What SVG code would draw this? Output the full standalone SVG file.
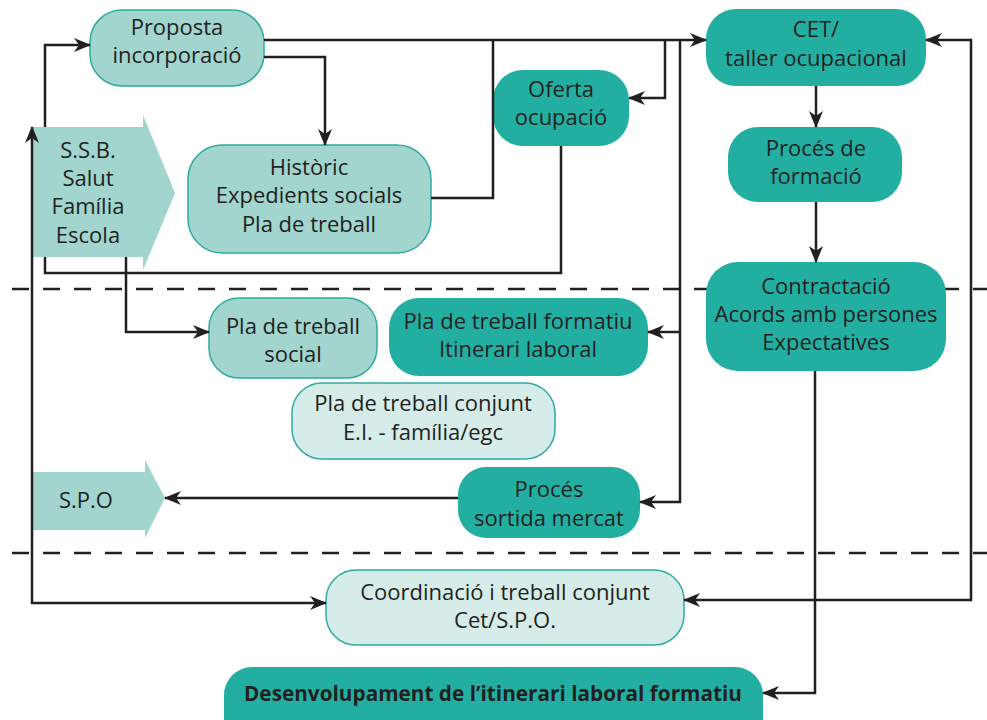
<svg xmlns="http://www.w3.org/2000/svg" width="987" height="720" viewBox="0 0 987 720">
  <style>
    .dark { fill: #22afa2; }
    .light { fill: #a1d5ce; stroke: #2eaa9e; stroke-width: 1.5; }
    .pale { fill: #d5ece9; stroke: #2eaa9e; stroke-width: 1.5; }
    .flag { fill: #a1d5ce; }
    text { font-family: "Open Sans", "Noto Sans", sans-serif; font-size: 22px; fill: #231f20; text-anchor: middle; }
    .bold { font-weight: bold; font-size: 21px; }
    .sep { stroke: #231f20; stroke-width: 2.5; stroke-dasharray: 17 14; fill: none; }
    .wire { stroke: #231f20; stroke-width: 2.5; fill: none; }
    .arrow { marker-end: url(#head); }
    .both { marker-start: url(#head); marker-end: url(#head); }
  </style>
  <defs>
    <marker id="head" markerUnits="userSpaceOnUse" markerWidth="17" markerHeight="14" viewBox="0 0 17 14" refX="16" refY="7" orient="auto-start-reverse">
      <path d="M0,0 L17,7 L0,14 L5,7 z" fill="#231f20"/>
    </marker>
  </defs>

  <rect width="987" height="720" fill="#ffffff"/>

  <!-- section separators -->
  <g id="separators">
    <path class="sep" d="M12,289 H987"/>
    <path class="sep" d="M12,553 H987"/>
  </g>

  <g id="proposta">
    <rect class="light" x="90" y="10" width="174" height="76" rx="32"/>
    <text x="177" y="35">Proposta</text>
    <text x="177" y="63">incorporació</text>
  </g>

  <g id="ssb">
    <polygon class="flag" points="32,127 143,127 143,115 175,193 143,270 143,257 32,257"/>
    <text x="88" y="158">S.S.B.</text>
    <text x="88" y="186">Salut</text>
    <text x="88" y="214">Família</text>
    <text x="88" y="243">Escola</text>
  </g>

  <g id="historic">
    <rect class="light" x="188" y="145" width="243" height="108" rx="34"/>
    <text x="309" y="175">Històric</text>
    <text x="309" y="203">Expedients socials</text>
    <text x="309" y="232">Pla de treball</text>
  </g>

  <g id="oferta">
    <rect class="dark" x="493" y="70" width="136" height="76" rx="30"/>
    <text x="561" y="97">Oferta</text>
    <text x="561" y="125">ocupació</text>
  </g>

  <g id="cet">
    <rect class="dark" x="706" y="9" width="220" height="77" rx="30"/>
    <text x="816" y="37">CET/</text>
    <text x="816" y="66">taller ocupacional</text>
  </g>

  <g id="proces-formacio">
    <rect class="dark" x="728" y="127" width="174" height="75" rx="30"/>
    <text x="816" y="156">Procés de</text>
    <text x="816" y="184">formació</text>
  </g>

  <g id="contractacio">
    <rect class="dark" x="706" y="262" width="240" height="109" rx="32"/>
    <text x="826" y="294">Contractació</text>
    <text x="826" y="322">Acords amb persones</text>
    <text x="826" y="350">Expectatives</text>
  </g>

  <g id="pla-social">
    <rect class="light" x="209" y="298" width="168" height="80" rx="30"/>
    <text x="293" y="334">Pla de treball</text>
    <text x="293" y="362">social</text>
  </g>

  <g id="pla-formatiu">
    <rect class="dark" x="389" y="298" width="259" height="78" rx="30"/>
    <text x="518" y="329">Pla de treball formatiu</text>
    <text x="518" y="357">Itinerari laboral</text>
  </g>

  <g id="pla-conjunt">
    <rect class="pale" x="292" y="383" width="263" height="76" rx="30"/>
    <text x="423" y="411">Pla de treball conjunt</text>
    <text x="423" y="440">E.I. - família/egc</text>
  </g>

  <g id="spo">
    <polygon class="flag" points="32,472 145,472 145,460 165,498 145,538 145,530 32,530"/>
    <text x="86" y="508">S.P.O</text>
  </g>

  <g id="proces-sortida">
    <rect class="dark" x="458" y="467" width="182" height="71" rx="28"/>
    <text x="549" y="497">Procés</text>
    <text x="549" y="526">sortida mercat</text>
  </g>

  <g id="coordinacio">
    <rect class="pale" x="326" y="570" width="358" height="75" rx="30"/>
    <text x="505" y="600">Coordinació i treball conjunt</text>
    <text x="505" y="628">Cet/S.P.O.</text>
  </g>

  <g id="desenvolupament">
    <rect class="dark" x="224" y="667" width="539" height="80" rx="28"/>
    <text class="bold" x="493" y="701" textLength="498" lengthAdjust="spacingAndGlyphs">Desenvolupament de l’itinerari laboral formatiu</text>
  </g>

  <g id="connectors">
    <path class="wire arrow" d="M264,40 H706"/>
    <path class="wire arrow" d="M264,57 H325 V145"/>
    <path class="wire" d="M431,198 H493 V40"/>
    <path class="wire arrow" d="M665,40 V98 H629"/>
    <path class="wire arrow" d="M680,40 V502 H640"/>
    <path class="wire arrow" d="M680,332 H648"/>
    <path class="wire" d="M561,146 V273 H45 V257"/>
    <path class="wire arrow" d="M45,127 V45 H90"/>
    <path class="wire arrow" d="M126,257 V332 H209"/>
    <path class="wire both" d="M326,603 H32 V127"/>
    <path class="wire both" d="M926,40 H971 V600 H684"/>
    <path class="wire arrow" d="M816,86 V127"/>
    <path class="wire arrow" d="M816,202 V262"/>
    <path class="wire arrow" d="M815,371 V693 H763"/>
    <path class="wire arrow" d="M458,498 H165"/>
  </g>
</svg>
